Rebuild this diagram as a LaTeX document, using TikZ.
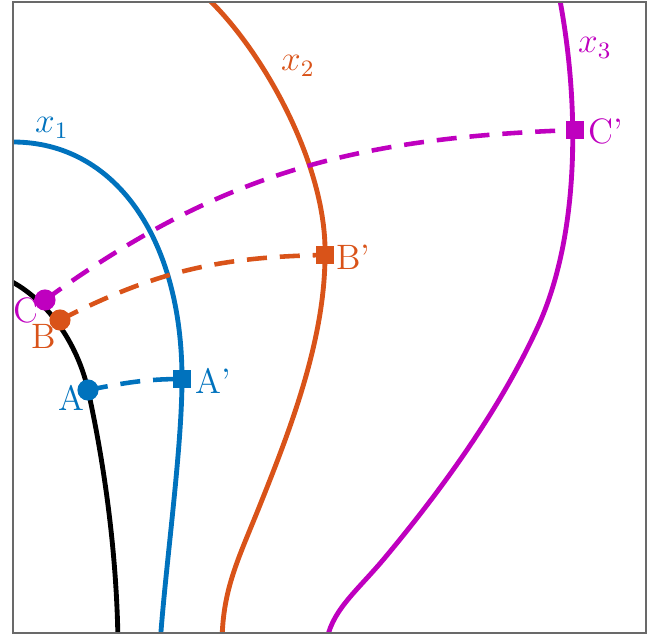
\documentclass[tikz,border=0pt]{standalone}
\usepackage{amsmath}
\usetikzlibrary{backgrounds}
\definecolor{ink}{RGB}{0,0,0}
\definecolor{framegray}{RGB}{105,105,105}
\definecolor{curveone}{RGB}{0,114,189}
\definecolor{curvetwo}{RGB}{217,83,25}
\definecolor{curvethree}{RGB}{191,0,191}
\tikzset{
    level curve/.style={
        line width=1.65pt,
        line join=round
    },
    flow dash/.style={
        line width=1.55pt,
        dash pattern=on 6.8pt off 4.4pt
    },
    start dot/.style={
        circle,
        fill,
        inner sep=0pt,
        minimum size=7.2pt
    },
    end box/.style={
        rectangle,
        fill,
        inner sep=0pt,
        minimum size=6.3pt
    },
    ptlabel/.style={
        font=\large,
        inner sep=1pt
    },
    axisframe/.style={
        draw=framegray,
        line width=0.5pt
    }
}
\begin{document}
\begin{tikzpicture}[x=0.34pt, y=-0.34pt]
\useasboundingbox (0,0) rectangle (660,636);

% Start points on the black curve
\node[start dot, curvethree] (C) at (45,300) {};
\node[start dot, curvetwo] (B) at (60,320) {};
\node[start dot, curveone] (A) at (88,390) {};

% End points on the level curves
\node[end box, curveone] (Ap) at (182,379) {};
\node[end box, curvetwo] (Bp) at (325,255) {};
\node[end box, curvethree] (Cp) at (575,130) {};

% Point labels
\node[ptlabel, text=curvethree] (Clab) at (26,310) {C};
\node[ptlabel, text=curvetwo] (Blab) at (44,336) {B};
\node[ptlabel, text=curveone] (Alab) at (71,398) {A};
\node[ptlabel, text=curveone, anchor=west] (Aplab) at (192,381) {A'};
\node[ptlabel, text=curvetwo, anchor=west] (Bplab) at (333,257) {B'};
\node[ptlabel, text=curvethree, anchor=west] (Cplab) at (585,131) {C'};

% Curve labels
\node[ptlabel, text=curveone] (xone) at (52,128) {$x_1$};
\node[ptlabel, text=curvetwo] (xtwo) at (298,66) {$x_2$};
\node[ptlabel, text=curvethree] (xthree) at (595,48) {$x_3$};

\begin{scope}[on background layer]
\clip (13,2) rectangle (646,633);
% Level curves
\draw[level curve, ink] (2,277) .. controls (47,296) and (78,345) .. (88,390)
    .. controls (100,444) and (117,540) .. (118,645);
\draw[level curve, curveone] (0,142) -- (13,142) .. controls (114,142) and (182,237) .. (182,379)
    .. controls (182,450) and (165,570) .. (160,645);
\draw[level curve, curvetwo] (204,-5) .. controls (262,48) and (327,165) .. (325,255)
    .. controls (325,340) and (290,430) .. (260,505)
    .. controls (238,560) and (222,590) .. (222,645);
\draw[level curve, curvethree] (558,-10) .. controls (580,100) and (580,230) .. (540,322)
    .. controls (505,400) and (450,480) .. (383,560)
    .. controls (355,593) and (330,612) .. (326,645);
% Dashed connectors
\draw[flow dash, curveone] (A.center) to[out=11, in=180] (Ap.center);
\draw[flow dash, curvetwo] (B.center) to[out=27, in=181] (Bp.center);
\draw[flow dash, curvethree] (C.center) to[out=36, in=182] (Cp.center);
\end{scope}

% Frame
\draw[axisframe] (13,2) rectangle (646,633);

\end{tikzpicture}
\end{document}
